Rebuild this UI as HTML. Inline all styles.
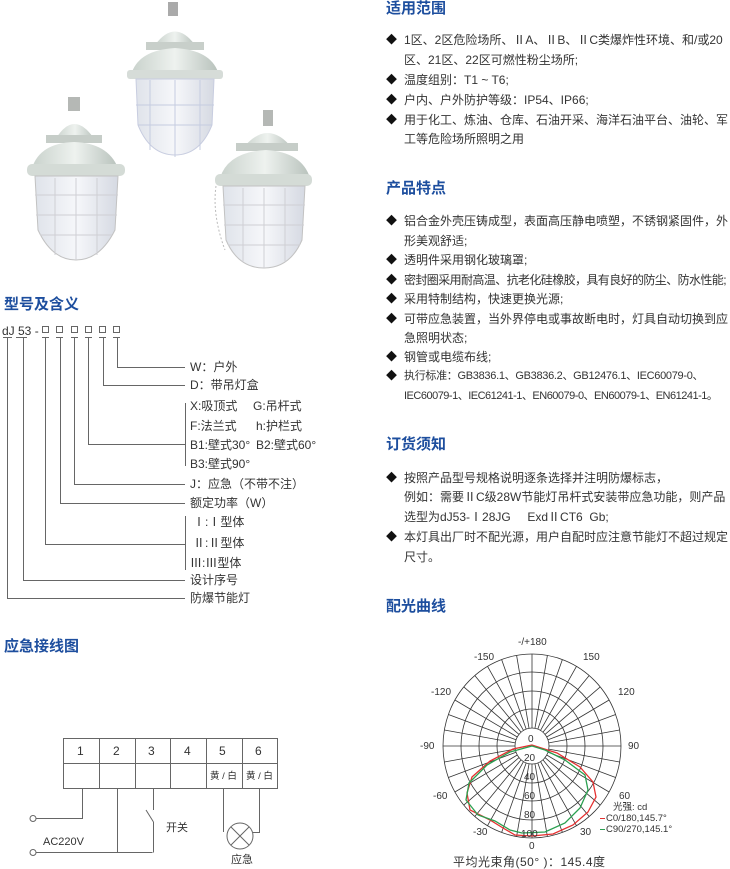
<!DOCTYPE html>
<html><head><meta charset="utf-8"><style>
body{margin:0;width:730px;height:869px;background:#fff;position:relative;overflow:hidden;font-family:"Liberation Sans","Noto Sans CJK SC",sans-serif;color:#333}
.t{position:absolute;white-space:nowrap;font-size:12px;line-height:14px}
.h{position:absolute;white-space:nowrap;font-size:15px;font-weight:bold;color:#1d4e9e;line-height:18px}
.b{position:absolute;font-size:11px;line-height:14px;color:#111}
svg{position:absolute;left:0;top:0}
</style></head><body>
<svg width="730" height="869" viewBox="0 0 730 869">
<defs>
<linearGradient id="m" x1="0" x2="1"><stop offset="0" stop-color="#c9d2cc"/><stop offset=".5" stop-color="#eef2ef"/><stop offset="1" stop-color="#b8c2bc"/></linearGradient>
<linearGradient id="g" x1="0" x2="1"><stop offset="0" stop-color="#dfe3ea"/><stop offset=".5" stop-color="#f6f7fa"/><stop offset="1" stop-color="#d5d9e2"/></linearGradient>
</defs>
<g>
<rect x="168" y="2" width="10" height="14" fill="#aaa"/>
<path d="M155 45 Q175 18 195 45 Z" fill="url(#m)"/>
<rect x="146" y="42" width="58" height="8" fill="#c8cfca"/>
<path d="M132 72 Q140 50 175 48 Q210 50 218 72 Z" fill="url(#m)"/>
<rect x="127" y="70" width="96" height="9" rx="3" fill="#d6dcd8"/>
<path d="M136 79 L214 79 L212 125 Q200 155 175 155 Q150 155 138 125 Z" fill="url(#g)" stroke="#c8cde0"/>
<path d="M136 105 H214 M138 125 H212 M150 80 V150 M175 80 V157 M200 80 V150" stroke="#c5cce0" fill="none"/>
</g>
<g>
<rect x="68" y="97" width="12" height="14" fill="#b5b8b5"/>
<path d="M55 140 Q74 108 95 140 Z" fill="url(#m)"/>
<rect x="46" y="135" width="56" height="8" fill="#c6cdc8"/>
<path d="M32 168 Q40 143 74 142 Q108 143 118 168 Z" fill="url(#m)"/>
<rect x="27" y="164" width="98" height="12" rx="5" fill="#d4dbd6"/>
<path d="M35 176 L118 176 L115 230 Q100 260 76 260 Q52 260 38 230 Z" fill="url(#g)" stroke="#c2c2c2"/>
<path d="M35 195 H118 M36 215 H117 M40 235 H112 M55 178 V255 M76 178 V260 M97 178 V255" stroke="#cfcfd4" fill="none"/>
</g>
<g>
<rect x="263" y="110" width="10" height="16" fill="#b5b8b5"/>
<path d="M243 148 Q268 118 292 148 Z" fill="url(#m)"/>
<rect x="236" y="143" width="62" height="8" fill="#c6cdc8"/>
<path d="M220 178 Q228 152 266 150 Q302 152 310 178 Z" fill="url(#m)"/>
<rect x="215" y="174" width="97" height="12" rx="5" fill="#d4dbd6"/>
<path d="M223 186 L305 186 L302 240 Q290 268 264 268 Q238 268 226 240 Z" fill="url(#g)" stroke="#c2c2c2"/>
<path d="M223 205 H305 M224 225 H304 M228 245 H300 M243 188 V262 M264 188 V268 M285 188 V262" stroke="#cfcfd4" fill="none"/>
<path d="M216 186 Q212 215 225 250" stroke="#bbb" stroke-dasharray="2 2" fill="none"/>
</g>

<g stroke="#666" stroke-width="1" fill="none">
<rect x="42.5" y="326.5" width="6" height="6"/><rect x="56.5" y="326.5" width="6" height="6"/><rect x="71.5" y="326.5" width="6" height="6"/><rect x="85.5" y="326.5" width="6" height="6"/><rect x="99.5" y="326.5" width="6" height="6"/><rect x="113.5" y="326.5" width="6" height="6"/>
<path d="M3 337.5H12 M16 337.5H27 M42 337.5H49 M56 337.5H63 M71 337.5H78 M85 337.5H92 M99 337.5H106 M113 337.5H120"/>
<path d="M117.5 338V367.5H185"/>
<path d="M103.5 338V385.5H185"/>
<path d="M88.5 338V444.5H185 M185.5 403V466"/>
<path d="M74.5 338V484.5H185"/>
<path d="M60.5 338V503.5H185"/>
<path d="M45.5 338V544.5H185 M185.5 516V570"/>
<path d="M23.5 338V580.5H185"/>
<path d="M7.5 338V598.5H185"/>
</g>

<g stroke="#666" stroke-width="1" fill="none">
<rect x="63.5" y="738.5" width="214" height="50"/>
<path d="M63.5 763.5H277.5 M99.5 738V788 M135.5 738V788 M170.5 738V788 M206.5 738V788 M242.5 738V788"/>
<path d="M82.5 788V818.5H36"/>
<circle cx="33" cy="818.5" r="3"/>
<circle cx="33" cy="852.5" r="3"/>
<path d="M36 852.5H152.5 M117.5 788V852.5"/>
<path d="M153.5 788V810 M146 810L153.5 822 M153.5 822V852.5"/>
<path d="M223.5 788V832 M259.5 788V832.5H253"/>
<circle cx="240" cy="836" r="13"/>
<path d="M231 827L249 845 M249 827L231 845"/>
</g>

<g stroke="#333" stroke-width="0.8" fill="none" transform="translate(532 746)">
<ellipse rx="89" ry="92"/>
<ellipse rx="71" ry="74"/>
<ellipse rx="53" ry="55"/>
<ellipse rx="35" ry="37"/>
<ellipse rx="17" ry="18"/>
<path d="M0 -18V-92 M0 18V92 M-17 0H-89 M17 0H89"/>
<g id="sp">
<path d="M2.95 -17.7L15.4 -90.6 M5.8 -16.9L30.4 -86.5 M8.5 -15.6L44.5 -79.7 M10.9 -13.8L57.2 -70.5 M13 -11.6L68.2 -59.1 M14.7 -9L77.1 -46 M16 -6.2L83.6 -31.5 M16.7 -3.1L87.6 -16"/>
</g>
<use href="#sp" transform="scale(-1 1)"/>
<use href="#sp" transform="scale(1 -1)"/>
<use href="#sp" transform="scale(-1 -1)"/>
</g>
<path d="M532 745 L513 749 L490 761 L472 777 L467 793 L470 810 L490 820 L503 828 L515 835 L532 836 L553 834 L573 825 L588 812 L596 797 L593 782 L580 767 L557 753 Z" stroke="#e53030" stroke-width="1.3" fill="none"/>
<path d="M532 746 L510 752 L487 765 L469 783 L466 800 L478 815 L495 821 L510 830 L522 833 L545 832 L565 823 L580 808 L588 790 L585 775 L565 760 L545 750 Z" stroke="#2aa050" stroke-width="1.3" fill="none"/>
<path d="M600 818.5H605" stroke="#e53030"/>
<path d="M600 829.5H605" stroke="#2aa050"/>
</svg>

<div class="h" style="left:386px;top:0px">适用范围</div>
<div class="b" style="left:386px;top:33px">◆</div><div class="t" style="left:404px;top:33px">1区、2区危险场所、ⅡA、ⅡB、ⅡC类爆炸性环境、和/或20</div>
<div class="t" style="left:404px;top:53px">区、21区、22区可燃性粉尘场所;</div>
<div class="b" style="left:386px;top:73px">◆</div><div class="t" style="left:404px;top:73px">温度组别：T1 ~ T6;</div>
<div class="b" style="left:386px;top:93px">◆</div><div class="t" style="left:404px;top:93px">户内、户外防护等级：IP54、IP66;</div>
<div class="b" style="left:386px;top:113px">◆</div><div class="t" style="left:404px;top:113px">用于化工、炼油、仓库、石油开采、海洋石油平台、油轮、军</div>
<div class="t" style="left:404px;top:132px">工等危险场所照明之用</div>

<div class="h" style="left:386px;top:180px">产品特点</div>
<div class="b" style="left:386px;top:214px">◆</div><div class="t" style="left:404px;top:214px">铝合金外壳压铸成型，表面高压静电喷塑，不锈钢紧固件，外</div>
<div class="t" style="left:404px;top:234px">形美观舒适;</div>
<div class="b" style="left:386px;top:253px">◆</div><div class="t" style="left:404px;top:253px">透明件采用钢化玻璃罩;</div>
<div class="b" style="left:386px;top:273px">◆</div><div class="t" style="left:404px;top:273px;letter-spacing:-0.6px">密封圈采用耐高温、抗老化硅橡胶，具有良好的防尘、防水性能;</div>
<div class="b" style="left:386px;top:292px">◆</div><div class="t" style="left:404px;top:292px">采用特制结构，快速更换光源;</div>
<div class="b" style="left:386px;top:312px">◆</div><div class="t" style="left:404px;top:312px">可带应急装置，当外界停电或事故断电时，灯具自动切换到应</div>
<div class="t" style="left:404px;top:331px">急照明状态;</div>
<div class="b" style="left:386px;top:350px">◆</div><div class="t" style="left:404px;top:350px">钢管或电缆布线;</div>
<div class="b" style="left:386px;top:369px">◆</div><div class="t" style="left:404px;top:369px;font-size:11px;letter-spacing:-0.3px">执行标准：GB3836.1、GB3836.2、GB12476.1、IEC60079-0、</div>
<div class="t" style="left:404px;top:389px;font-size:11px;letter-spacing:-0.5px">IEC60079-1、IEC61241-1、EN60079-0、EN60079-1、EN61241-1。</div>

<div class="h" style="left:386px;top:436px">订货须知</div>
<div class="b" style="left:386px;top:471px">◆</div><div class="t" style="left:404px;top:471px">按照产品型号规格说明逐条选择并注明防爆标志，</div>
<div class="t" style="left:404px;top:490px">例如：需要ⅡC级28W节能灯吊杆式安装带应急功能，则产品</div>
<div class="t" style="left:404px;top:510px">选型为dJ53-Ⅰ28JG &nbsp;&nbsp;&nbsp;&nbsp;ExdⅡCT6 &nbsp;Gb;</div>
<div class="b" style="left:386px;top:530px">◆</div><div class="t" style="left:404px;top:530px">本灯具出厂时不配光源，用户自配时应注意节能灯不超过规定</div>
<div class="t" style="left:404px;top:550px">尺寸。</div>

<div class="h" style="left:386px;top:598px">配光曲线</div>

<div class="h" style="left:4px;top:296px">型号及含义</div>
<div class="t" style="left:2px;top:324px">dJ 53 -</div>
<div class="t" style="left:190px;top:360px">W：户外</div>
<div class="t" style="left:190px;top:378px">D：带吊灯盒</div>
<div class="t" style="left:190px;top:399px">X:吸顶式</div><div class="t" style="left:253px;top:399px">G:吊杆式</div>
<div class="t" style="left:190px;top:419px">F:法兰式</div><div class="t" style="left:256px;top:419px">h:护栏式</div>
<div class="t" style="left:190px;top:438px">B1:壁式30°</div><div class="t" style="left:256px;top:438px">B2:壁式60°</div>
<div class="t" style="left:190px;top:457px">B3:壁式90°</div>
<div class="t" style="left:190px;top:477px">J：应急（不带不注）</div>
<div class="t" style="left:190px;top:496px">额定功率（W）</div>
<div class="t" style="left:193px;top:515px">Ⅰ:Ⅰ型体</div>
<div class="t" style="left:193px;top:536px">Ⅱ:Ⅱ型体</div>
<div class="t" style="left:190px;top:556px">Ⅲ:Ⅲ型体</div>
<div class="t" style="left:190px;top:573px">设计序号</div>
<div class="t" style="left:190px;top:591px">防爆节能灯</div>

<div class="h" style="left:4px;top:638px">应急接线图</div>
<div class="t" style="left:77px;top:744px">1</div>
<div class="t" style="left:113px;top:744px">2</div>
<div class="t" style="left:148px;top:744px">3</div>
<div class="t" style="left:184px;top:744px">4</div>
<div class="t" style="left:219px;top:744px">5</div>
<div class="t" style="left:255px;top:744px">6</div>
<div class="t" style="left:210px;top:770px;font-size:9.5px">黄 / 白</div>
<div class="t" style="left:246px;top:770px;font-size:9.5px">黄 / 白</div>
<div class="t" style="left:166px;top:821px;font-size:11px">开关</div>
<div class="t" style="left:43px;top:835px;font-size:11px">AC220V</div>
<div class="t" style="left:231px;top:853px;font-size:11px">应急</div>

<div class="t" style="left:518px;top:636px;font-size:10px">-/+180</div>
<div class="t" style="left:474px;top:651px;font-size:10px">-150</div>
<div class="t" style="left:583px;top:651px;font-size:10px">150</div>
<div class="t" style="left:431px;top:686px;font-size:10px">-120</div>
<div class="t" style="left:618px;top:686px;font-size:10px">120</div>
<div class="t" style="left:420px;top:740px;font-size:10px">-90</div>
<div class="t" style="left:628px;top:740px;font-size:10px">90</div>
<div class="t" style="left:433px;top:790px;font-size:10px">-60</div>
<div class="t" style="left:619px;top:790px;font-size:10px">60</div>
<div class="t" style="left:473px;top:826px;font-size:10px">-30</div>
<div class="t" style="left:580px;top:826px;font-size:10px">30</div>
<div class="t" style="left:529px;top:840px;font-size:10px">0</div>
<div class="t" style="left:528px;top:733px;font-size:10px">0</div>
<div class="t" style="left:524px;top:752px;font-size:10px">20</div>
<div class="t" style="left:524px;top:771px;font-size:10px">40</div>
<div class="t" style="left:524px;top:790px;font-size:10px">60</div>
<div class="t" style="left:524px;top:809px;font-size:10px">80</div>
<div class="t" style="left:521px;top:828px;font-size:10px">100</div>
<div class="t" style="left:613px;top:801px;font-size:9.5px">光强: cd</div>
<div class="t" style="left:606px;top:812px;font-size:9.5px">C0/180,145.7°</div>
<div class="t" style="left:606px;top:823px;font-size:9.5px">C90/270,145.1°</div>
<div class="t" style="left:453px;top:855px;font-size:12px;letter-spacing:0.5px">平均光束角(50° )：145.4度</div>
</body></html>
